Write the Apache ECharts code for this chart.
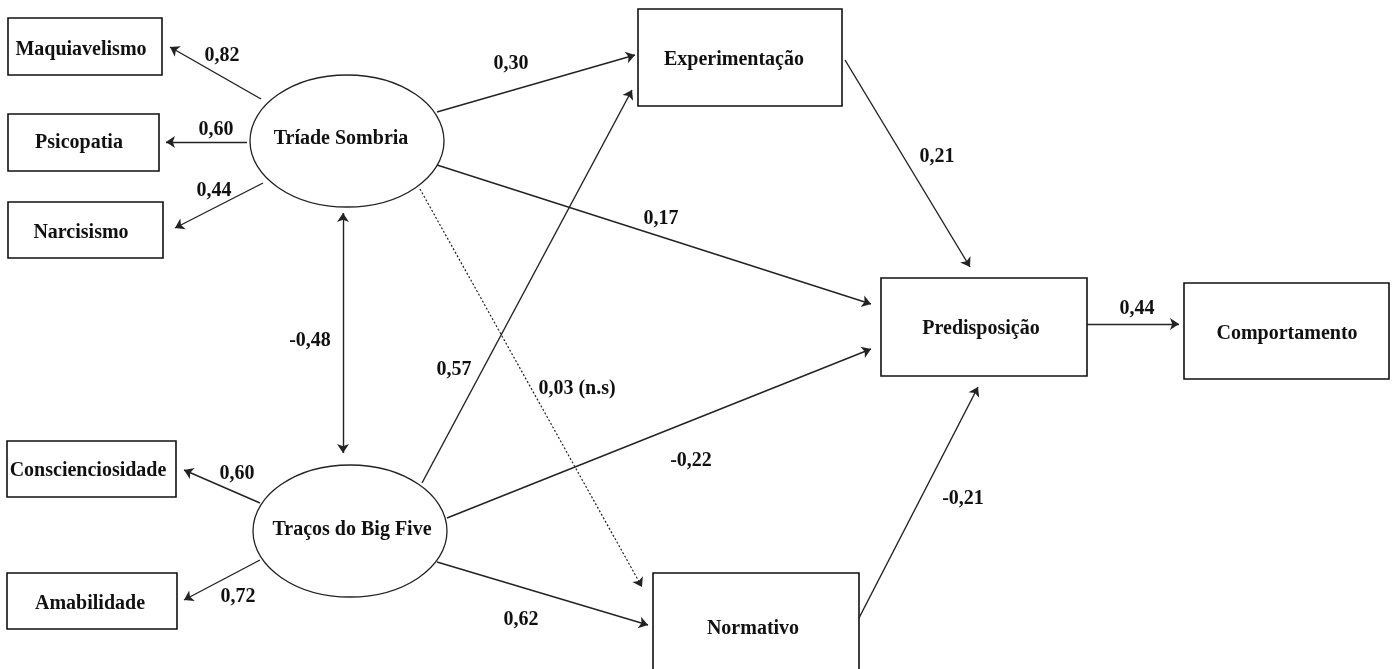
<!DOCTYPE html>
<html>
<head>
<meta charset="utf-8">
<script src="https://cdn.jsdelivr.net/npm/echarts@6/dist/echarts.min.js"></script>
<style>
  html, body { margin: 0; padding: 0; background: #fff; }
  #main { width: 1394px; height: 669px; }
</style>
</head>
<body>
<div id="main"></div>
<script>
// variáveis do modelo
var boxNames = ['Maquiavelismo', 'Psicopatia', 'Narcisismo', 'Conscienciosidade', 'Amabilidade',
                'Experimentação', 'Predisposição', 'Comportamento', 'Normativo'];
var latentNames = ['Tríade Sombria', 'Traços do Big Five'];

// caminhos: origem, destino, coeficiente
var pathFrom = ['Tríade Sombria', 'Tríade Sombria', 'Tríade Sombria', 'Traços do Big Five', 'Traços do Big Five',
                'Tríade Sombria', 'Tríade Sombria', 'Traços do Big Five', 'Tríade Sombria', 'Tríade Sombria',
                'Traços do Big Five', 'Traços do Big Five', 'Experimentação', 'Normativo', 'Predisposição'];
var pathTo = ['Maquiavelismo', 'Psicopatia', 'Narcisismo', 'Conscienciosidade', 'Amabilidade',
              'Traços do Big Five', 'Experimentação', 'Experimentação', 'Predisposição', 'Normativo',
              'Predisposição', 'Normativo', 'Predisposição', 'Predisposição', 'Comportamento'];
var pathCoef = ['0,82', '0,60', '0,44', '0,60', '0,72',
                '-0,48', '0,30', '0,57', '0,17', '0,03 (n.s)',
                '-0,22', '0,62', '0,21', '-0,21', '0,44'];
var pathSig = [1, 1, 1, 1, 1, 1, 1, 1, 1, 0, 1, 1, 1, 1, 1];
var pathBoth = [0, 0, 0, 0, 0, 1, 0, 0, 0, 0, 0, 0, 0, 0, 0];

// layout (pixels do desenho)
var boxRect = {
  'Maquiavelismo': [8, 18, 162, 75, 81, 50],
  'Psicopatia': [8, 114, 159, 171, 79, 143],
  'Narcisismo': [8, 202, 163, 258, 81, 233],
  'Conscienciosidade': [7, 441, 176, 497, 88, 471],
  'Amabilidade': [7, 573, 177, 629, 90, 604],
  'Experimentação': [638, 9, 842, 106, 734, 60],
  'Predisposição': [881, 278, 1087, 376, 981, 329],
  'Comportamento': [1184, 283, 1389, 379, 1287, 334],
  'Normativo': [653, 573, 859, 680, 753, 629]
};
var ellipseShape = {
  'Tríade Sombria': [347, 141, 97, 66, 341, 139],
  'Traços do Big Five': [350, 531, 97, 66, 352, 530]
};
var pathPts = [
  [261, 99, 170, 47], [247, 142, 166, 142], [263, 183, 175, 228], [260, 503, 184, 470], [260, 560, 184, 600],
  [343, 213, 343, 453], [437, 112, 635, 55], [422, 483, 632, 90], [437, 165, 871, 304], [420, 189, 642, 587],
  [447, 518, 871, 349], [437, 562, 648, 625], [845, 60, 970, 267], [859, 618, 978, 387], [1087, 324, 1179, 324]
];
var coefPos = [
  [222, 56], [216, 130], [214, 191], [237, 474], [238, 597],
  [310, 341], [511, 64], [454, 370], [661, 219], [577, 389],
  [691, 461], [521, 620], [937, 157], [963, 499], [1137, 309]
];

var FONT = 'bold 20px "Liberation Serif", "Times New Roman", serif';

var lineData = pathFrom.map(function (f, i) {
  var p = pathPts[i];
  return {
    name: f + ' → ' + pathTo[i],
    coords: [[p[0], p[1]], [p[2], p[3]]],
    symbol: pathBoth[i] ? ['arrow', 'arrow'] : ['none', 'arrow'],
    lineStyle: pathSig[i] ? { type: 'solid', width: 1.4 } : { type: [2, 2], width: 1.2 }
  };
});

var coefData = pathCoef.map(function (c, i) {
  return { value: coefPos[i], name: c };
});

var boxData = boxNames.map(function (n) { return { name: n, value: boxRect[n] }; });
var ellData = latentNames.map(function (n) { return { name: n, value: ellipseShape[n] }; });

var myChart = echarts.init(document.getElementById('main'));
var option = {
  animation: false,
  backgroundColor: '#fff',
  grid: { left: 0, right: 0, top: 0, bottom: 0 },
  xAxis: { type: 'value', min: 0, max: 1394, show: false },
  yAxis: { type: 'value', min: 0, max: 669, inverse: true, show: false },
  series: [
    {
      type: 'custom',
      name: 'boxes',
      clip: false,
      data: boxData,
      renderItem: function (params, api) {
        var a = api.coord([api.value(0), api.value(1)]);
        var b = api.coord([api.value(2), api.value(3)]);
        var t = api.coord([api.value(4), api.value(5)]);
        return {
          type: 'group',
          children: [
            { type: 'rect', shape: { x: a[0], y: a[1], width: b[0] - a[0], height: b[1] - a[1] },
              style: { fill: '#fff', stroke: '#111', lineWidth: 1.6 } },
            { type: 'text', style: { text: boxData[params.dataIndex].name, x: t[0], y: t[1],
              align: 'center', verticalAlign: 'middle', font: FONT, fill: '#111' } }
          ]
        };
      }
    },
    {
      type: 'custom',
      name: 'latentes',
      clip: false,
      data: ellData,
      renderItem: function (params, api) {
        var c = api.coord([api.value(0), api.value(1)]);
        var t = api.coord([api.value(4), api.value(5)]);
        return {
          type: 'group',
          children: [
            { type: 'ellipse', shape: { cx: c[0], cy: c[1], rx: api.value(2), ry: api.value(3) },
              style: { fill: '#fff', stroke: '#222', lineWidth: 1.3 } },
            { type: 'text', style: { text: ellData[params.dataIndex].name, x: t[0], y: t[1],
              align: 'center', verticalAlign: 'middle', font: FONT, fill: '#111' } }
          ]
        };
      }
    },
    {
      type: 'lines',
      name: 'caminhos',
      coordinateSystem: 'cartesian2d',
      symbolSize: 9,
      lineStyle: { color: '#222', opacity: 1 },
      data: lineData
    },
    {
      type: 'scatter',
      name: 'coeficientes',
      symbolSize: 0,
      itemStyle: { opacity: 1 },
      data: coefData,
      label: {
        show: true,
        position: 'inside',
        formatter: function (p) { return p.name; },
        color: '#111',
        opacity: 1,
        fontFamily: '"Liberation Serif", "Times New Roman", serif',
        fontWeight: 'bold',
        fontSize: 20
      }
    }
  ]
};
myChart.setOption(option);
window.onresize = function () { myChart.resize(); };
</script>
</body>
</html>
